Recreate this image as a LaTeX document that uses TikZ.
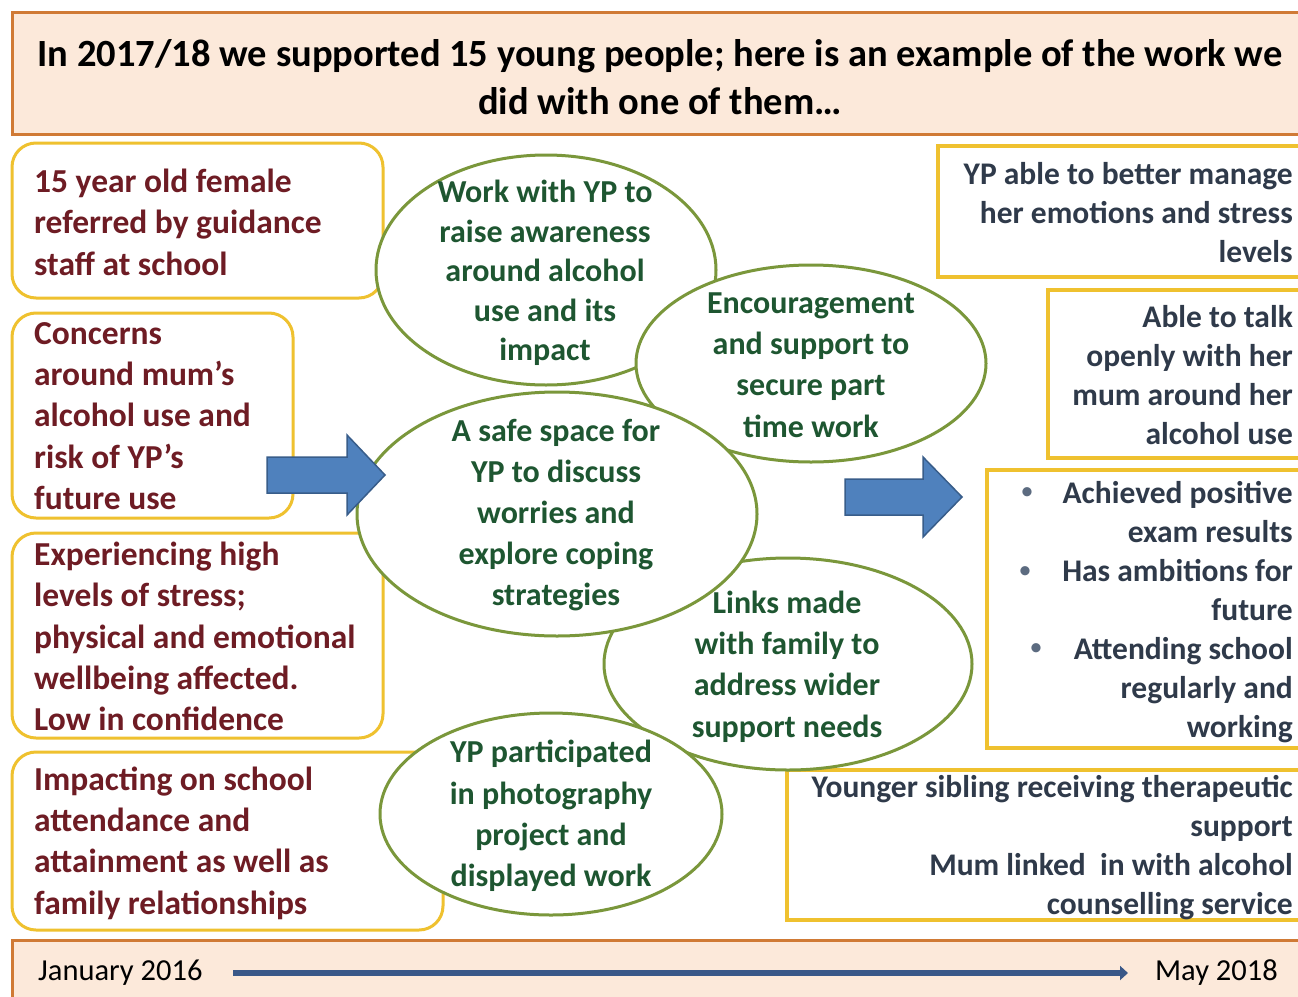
\documentclass[tikz,border=0pt]{standalone}
\usepackage{fontspec}
\setmainfont{Carlito}
\usetikzlibrary{shapes.geometric,arrows.meta}
\definecolor{peach}{HTML}{FCE9DA}
\definecolor{org}{HTML}{D07A35}
\definecolor{yel}{HTML}{EFC12F}
\definecolor{grn}{HTML}{7A973B}
\definecolor{grntxt}{HTML}{1E5631}
\definecolor{redtxt}{HTML}{6E1C24}
\definecolor{slate}{HTML}{2F3A4A}
\definecolor{bul}{HTML}{5C6B80}
\definecolor{arrfill}{HTML}{4F81BD}
\definecolor{arrdraw}{HTML}{385D8A}
\definecolor{tline}{HTML}{3A5888}
\tikzset{
  band/.style={draw=org, line width=3pt, fill=peach, inner sep=0pt},
  leftbox/.style={draw=yel, line width=3pt, rounded corners=24pt, fill=white, inner sep=0pt},
  rightbox/.style={draw=yel, line width=3.5pt, fill=white, inner sep=0pt},
  oval/.style={ellipse, draw=grn, line width=3pt, fill=white, inner sep=0pt},
  lefttxt/.style={text=redtxt, align=left, anchor=west, inner sep=0pt, font=\fontsize{33.5}{41.4}\selectfont\bfseries},
  ovaltxt/.style={text=grntxt, align=center, inner sep=0pt, font=\fontsize{32}{41.2}\selectfont\bfseries},
  righttxt/.style={text=slate, align=right, anchor=east, inner sep=0pt, font=\fontsize{31.5}{39}\selectfont\bfseries},
  bulnode/.style={text=bul, inner sep=0pt, font=\fontsize{26}{30}\selectfont},
  blockarrow/.style={fill=arrfill, draw=arrdraw, line width=1.5pt, line join=miter},
}
\begin{document}
\begin{tikzpicture}[x=1pt,y=-1pt]
\useasboundingbox (0,0) rectangle (1298,996);
\clip (0,0) rectangle (1298,996);
\fill[white] (0,0) rectangle (1298,996);

% title banner
\node[band, minimum width=1300, minimum height=122] (banner) at (662,73) {};
\node[inner sep=0pt, align=center, font=\fontsize{38.5}{48}\selectfont\bfseries] (title) at (660,77)
  {In 2017/18 we supported 15 young people; here is an example of the work we\\did with one of them\ldots};

% left boxes
\node[leftbox, minimum width=371, minimum height=155] (l1) at (197.5,220.5) {};
\node[leftbox, minimum width=281, minimum height=205] (l2) at (152.5,415.5) {};
\node[leftbox, minimum width=371, minimum height=205] (l3) at (197.5,635.5) {};
\node[leftbox, minimum width=431, minimum height=178] (l4) at (227.5,841) {};

% right boxes
\node[rightbox, minimum width=380, minimum height=131] (r1) at (1128,211.5) {};
\node[rightbox, minimum width=270, minimum height=168] (r2) at (1183,374) {};
\node[rightbox, minimum width=331, minimum height=278] (r3) at (1152.5,609) {};
\node[rightbox, minimum width=531, minimum height=150] (r4) at (1052.5,845) {};

% ellipses
\node[oval, minimum width=340, minimum height=230] (e1) at (546,270) {};
\node[oval, minimum width=350, minimum height=197] (e2) at (811,363.5) {};
\node[oval, minimum width=368, minimum height=212] (e4) at (788,664) {};
\node[oval, minimum width=400, minimum height=244] (e3) at (557,514) {};
\node[oval, minimum width=342, minimum height=202] (e5) at (551,814) {};

% block arrows
\draw[blockarrow] (267,457) -- (347,457) -- (347,435) -- (385,475) -- (347,515) -- (347,493) -- (267,493) -- cycle;
\draw[blockarrow] (845,479) -- (923,479) -- (923,457) -- (962,497) -- (923,537) -- (923,515) -- (845,515) -- cycle;

% left texts
\node[lefttxt] (t1) at (34,222) {15 year old female\\referred by guidance\\staff at school};
\node[lefttxt] (t2) at (34,416) {Concerns\\around mum’s\\alcohol use and\\risk of YP’s\\future use};
\node[lefttxt] (t3) at (34,636.5) {Experiencing high\\levels of stress;\\physical and emotional\\wellbeing affected.\\Low in confidence};
\node[lefttxt] (t4) at (34,843) {Impacting on school\\attendance and\\attainment as well as\\family relationships};

% ellipse texts
\node[ovaltxt, font=\fontsize{32}{39.5}\selectfont\bfseries] (te1) at (545,273) {Work with YP to\\raise awareness\\around alcohol\\use and its\\impact};
\node[ovaltxt] (te2) at (811,365) {Encouragement\\and support to\\secure part\\time work};
\node[ovaltxt] (te3) at (556,515) {A safe space for\\YP to discuss\\worries and\\explore coping\\strategies};
\node[ovaltxt] (te4) at (787,666.5) {Links made\\with family to\\address wider\\support needs};
\node[ovaltxt] (te5) at (551,816) {YP participated\\in photography\\project and\\displayed work};

% right texts
\node[righttxt] (tr1) at (1293,213) {YP able to better manage\\her emotions and stress\\levels};
\node[righttxt] (tr2) at (1293,375) {Able to talk\\openly with her\\mum around her\\alcohol use};
\node[righttxt] (tr3) at (1293,612) {Achieved positive\\exam results\\Has ambitions for\\future\\Attending school\\regularly and\\working};
\node[righttxt] (tr4) at (1293,847.5) {Younger sibling receiving therapeutic\\support\\Mum linked\ \ in with alcohol\\counselling service};
\node[bulnode] (b1) at (1027,494) {\textbullet};
\node[bulnode] (b2) at (1025,573) {\textbullet};
\node[bulnode] (b3) at (1036,650) {\textbullet};

% timeline band
\node[band, minimum width=1300, minimum height=80] (bottom) at (662,980) {};
\node[inner sep=0pt, anchor=west, font=\fontsize{30.5}{34}\selectfont] (jan) at (38,973) {January 2016};
\node[inner sep=0pt, anchor=east, font=\fontsize{30.5}{34}\selectfont] (may) at (1278,973) {May 2018};
\coordinate (tlstart) at (233,973);
\coordinate (tlend) at (1128,973);
\draw[tline, line width=5.5pt, -{Triangle[length=8pt,width=14pt]}] (tlstart) -- (tlend);
\end{tikzpicture}
\end{document}
